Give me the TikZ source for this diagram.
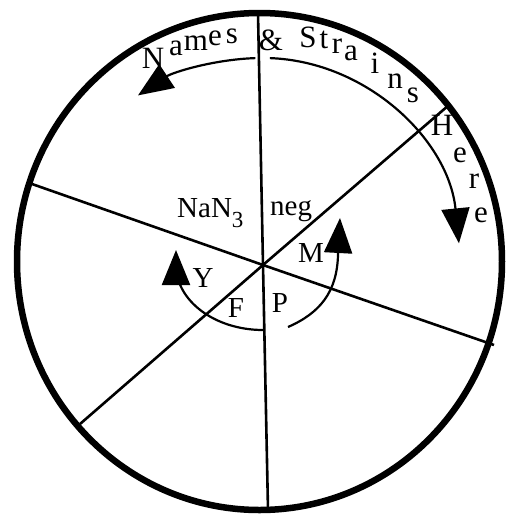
\documentclass[tikz,border=0pt]{standalone}
\usepackage{fontspec}
\setmainfont{Liberation Serif}
\usetikzlibrary{arrows.meta}

\begin{document}
\begin{tikzpicture}[
    x=1pt, y=-1pt,
    plate/.style={line width=6.5pt},
    sector/.style={line width=2.6pt},
    turn/.style={line width=2.2pt, -{Triangle[length=35pt, width=28pt]}},
    letter/.style={anchor=base, inner sep=0pt, font=\fontsize{31}{32}\selectfont},
    tag/.style={anchor=base, inner sep=0pt, font=\fontsize{29}{30}\selectfont}
]

\useasboundingbox (0,0) rectangle (507,515);

% plate rim and sector lines
\draw[plate] (259.5,261.5) ellipse [x radius=242.5, y radius=248.5];

\coordinate (hub) at (263,265);
\coordinate (rimN) at (258,13);
\coordinate (rimS) at (268,510);
\coordinate (rimW) at (32,184);
\coordinate (rimE) at (494,345);
\coordinate (rimNE) at (449,105);
\coordinate (rimSW) at (80,424);

\draw[sector] (rimN) -- (hub) -- (rimS);
\draw[sector] (rimW) -- (hub) -- (rimE);
\draw[sector] (rimNE) -- (hub) -- (rimSW);

% lettering round the rim
\foreach \ch/\px/\py in {N/153/68, a/176/55, m/196/50, e/215/45, s/232/43,
    \&/271/50, S/308/47, t/324/48, r/337/53, a/351/60, i/375/73, n/395/88,
    s/413/102, H/442/135, e/460/162, r/474/188, e/481/222}
  \node[letter] at (\px,\py) {\ch};

% outer arrows
\draw[turn] (269.9,58.1) arc[start angle=-88, end angle=-6, x radius=197, y radius=207];
\draw[turn] (255.4,58.1) arc[start angle=-92, end angle=-125, x radius=218, y radius=207];

% inner labels
\node[tag, anchor=base west] (azide) at (177,217) {NaN\raisebox{-10pt}{\fontsize{23}{23}\selectfont 3}};
\node[tag, anchor=base west] (neg) at (270,215) {neg};
\node[tag] (mtag) at (311,262) {M};
\node[tag] (ytag) at (203,287) {Y};
\node[tag] (ftag) at (236,317) {F};
\node[tag] (ptag) at (280,312) {P};

% inner arrows
\draw[turn] (263,330) arc[start angle=90, end angle=180, x radius=87, y radius=65] -- (176,250);
\draw[turn] (288,327) .. controls (320,313) and (337,292) .. (338,255) -- (340,218);

\end{tikzpicture}
\end{document}
